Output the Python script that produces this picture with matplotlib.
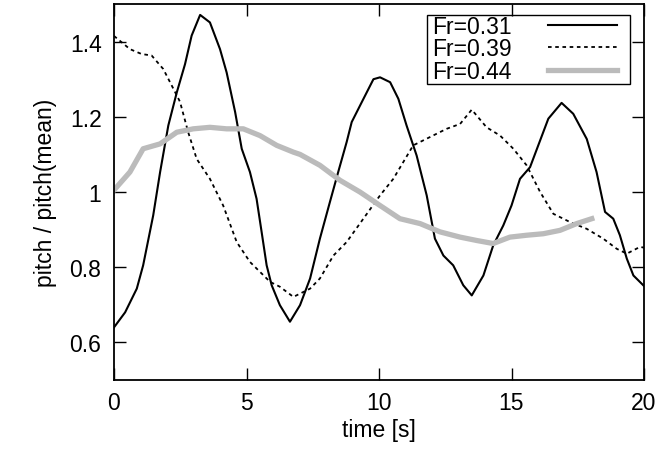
import matplotlib
matplotlib.use('Agg')
import matplotlib.pyplot as plt
from matplotlib.patches import Rectangle

plt.rcParams['font.family'] = ['Liberation Sans', 'DejaVu Sans']
plt.rcParams['font.size'] = 16.5

# Fr=0.31
t031 = [0, 0.42, 0.86, 1.1, 1.48, 1.74, 2.05, 2.37, 2.68, 2.93, 3.25, 3.62, 4.0, 4.25,
        4.57, 4.82, 5.13, 5.38, 5.57, 5.76, 5.95, 6.26, 6.64, 7.02, 7.4, 7.77, 8.15,
        8.46, 8.78, 8.97, 9.35, 9.79, 10.04, 10.42, 10.73, 11.04, 11.42, 11.8, 12.11,
        12.43, 12.8, 13.18, 13.5, 13.94, 14.31, 14.69, 15.0, 15.32, 15.7, 16.01, 16.39,
        16.89, 17.33, 17.84, 18.21, 18.53, 18.84, 19.09, 19.35, 19.6, 20.0]
p031 = [0.64, 0.68, 0.743, 0.805, 0.938, 1.053, 1.177, 1.265, 1.34, 1.416, 1.471, 1.451,
        1.38, 1.318, 1.213, 1.115, 1.053, 0.982, 0.894, 0.805, 0.752, 0.699, 0.655, 0.699,
        0.77, 0.876, 0.974, 1.053, 1.133, 1.186, 1.239, 1.30, 1.305, 1.292, 1.248, 1.177,
        1.097, 0.991, 0.876, 0.831, 0.805, 0.752, 0.725, 0.778, 0.858, 0.911, 0.964,
        1.035, 1.066, 1.124, 1.195, 1.237, 1.208, 1.141, 1.053, 0.947, 0.929, 0.885,
        0.823, 0.778, 0.75]

# Fr=0.39
t039 = [0, 0.6, 1.04, 1.42, 1.86, 2.18, 2.49, 2.8, 3.12, 3.62, 4.12, 4.63, 5.13, 5.89,
        6.26, 6.77, 7.4, 7.77, 8.28, 8.78, 9.41, 10.04, 10.54, 10.92, 11.29, 11.92, 12.55,
        13.06, 13.5, 14.06, 14.57, 15.07, 15.57, 16.08, 16.58, 17.21, 17.84, 18.46, 18.97,
        19.35, 19.85, 20.0]
p039 = [1.415, 1.38, 1.367, 1.363, 1.327, 1.283, 1.24, 1.159, 1.088, 1.035, 0.964, 0.867,
        0.814, 0.761, 0.748, 0.721, 0.743, 0.77, 0.831, 0.867, 0.929, 0.991, 1.035, 1.08,
        1.124, 1.146, 1.168, 1.181, 1.219, 1.172, 1.15, 1.115, 1.071, 1.0, 0.942, 0.92,
        0.902, 0.876, 0.849, 0.836, 0.854, 0.852]

# Fr=0.44
t044 = [0, 0.6, 1.1, 1.74, 2.37, 2.99, 3.62, 4.25, 4.88, 5.51, 6.14, 6.77, 7.02, 7.77,
        8.53, 9.28, 10.04, 10.79, 11.55, 12.3, 13.06, 13.69, 14.31, 14.94, 15.57, 16.2,
        16.83, 17.46, 18.03]
p044 = [1.005, 1.053, 1.115, 1.128, 1.159, 1.168, 1.172, 1.168, 1.168, 1.15, 1.124, 1.106,
        1.1, 1.071, 1.031, 1.0, 0.964, 0.929, 0.916, 0.894, 0.88, 0.871, 0.863, 0.88, 0.885,
        0.889, 0.898, 0.916, 0.929]

xticks = [0, 5, 10, 15, 20]
yticks = [0.6, 0.8, 1.0, 1.2, 1.4]
yticklabels = ['0.6', '0.8', '1', '1.2', '1.4']

fig = plt.figure(figsize=(6.59, 4.56), dpi=100)
ax = fig.add_axes([114 / 659, 75 / 456, 530 / 659, 376 / 456])

ax.plot(t031, p031, color='black', lw=1.5, label='Fr=0.31')
ax.plot(t039, p039, color='black', lw=1.3, linestyle=(0, (2, 2)), label='Fr=0.39')
ax.plot(t044, p044, color='#bbbbbb', lw=3.8, label='Fr=0.44')

ax.set_xlim(0, 20)
ax.set_ylim(0.5, 1.5)
ax.set_xticks(xticks)
ax.set_yticks(yticks)
ax.set_yticklabels(yticklabels)
ax.tick_params(direction='in', length=8.5, width=1, top=True, right=True)
ax.tick_params(axis='x', pad=8)
ax.tick_params(axis='y', pad=9)
for s in ax.spines.values():
    s.set_linewidth(1.3)

ax.set_xlabel('time [s]', labelpad=3)
ax.set_ylabel('pitch / pitch(mean)', labelpad=9)

# legend without its own frame; frame drawn as a rectangle (gnuplot style box)
leg = ax.legend(loc='upper right', bbox_to_anchor=(1 - 27 / 530, 1 - 11 / 376),
                borderaxespad=0, markerfirst=False, frameon=False,
                handlelength=3.0, handletextpad=1.6, labelspacing=-0.03,
                borderpad=0.0)
ax.add_patch(Rectangle((1 - 217 / 530, 1 - 80 / 376), 203 / 530, 69 / 376,
                       transform=ax.transAxes, fill=False, edgecolor='black',
                       lw=1.0, zorder=5))

fig.savefig('out.png', dpi=100)
